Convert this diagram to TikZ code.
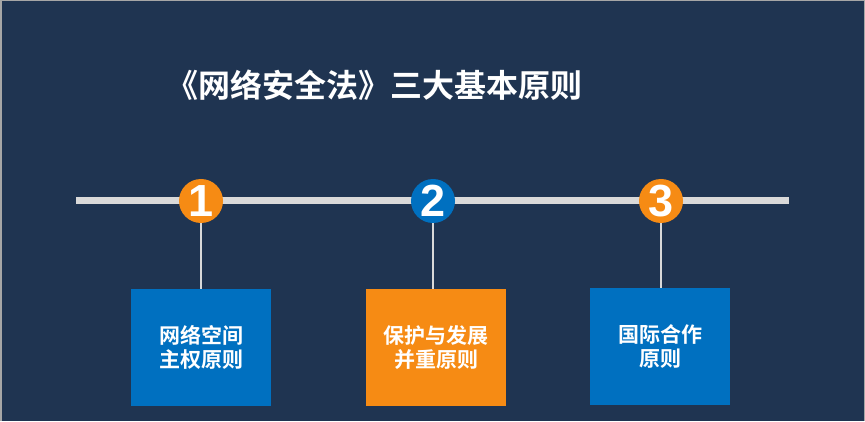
\documentclass[tikz,border=0pt]{standalone}
\usepackage{fontspec}
\newfontfamily\cjk{Noto Sans CJK SC}[BoldFont={Noto Sans CJK SC Bold}]
\newfontfamily\numfont{Liberation Sans}
\definecolor{bgc}{HTML}{1F3451}
\definecolor{bluec}{HTML}{0070C0}
\definecolor{orangec}{HTML}{F68B14}
\definecolor{linec}{HTML}{D9D9D9}
\definecolor{framec}{HTML}{A6A6A6}
\tikzset{
  numcirc/.style={circle, minimum size=44pt, inner sep=0pt, text=white, font=\numfont\bfseries\fontsize{45}{45}\selectfont},
  boxnode/.style={minimum width=140pt, minimum height=117pt, inner sep=0pt, text=white, align=center, font=\cjk\bfseries\fontsize{21}{24}\selectfont},
  stem/.style={draw=linec, line width=1.6pt}
}
\begin{document}
\begin{tikzpicture}[x=1pt,y=-1pt]
\fill[bgc] (0,0) rectangle (865,421);
\draw[framec, line width=1.5pt] (0.75,421) -- (0.75,0.75) -- (864.25,0.75) -- (864.25,421);
\useasboundingbox (0,0) rectangle (865,421);
\node[text=white, font=\cjk\bfseries\fontsize{32}{36}\selectfont] (title) at (374,85) {《网络安全法》三大基本原则};
\coordinate (lineL) at (76,201);
\coordinate (lineR) at (789,201);
\draw[linec, line width=7pt] (lineL) -- (lineR);
\node[boxnode, fill=bluec] (b1) at (201,347.5) {网络空间\\主权原则};
\node[boxnode, fill=orangec] (b2) at (436,347.5) {保护与发展\\并重原则};
\node[boxnode, fill=bluec] (b3) at (660,346.5) {国际合作\\原则};
\node[numcirc, fill=orangec] (c1) at (201,201) {1};
\node[numcirc, fill=bluec] (c2) at (433,201) {2};
\node[numcirc, fill=orangec] (c3) at (661,201) {3};
\draw[stem] (c1.south) -- (c1.south |- b1.north);
\draw[stem] (c2.south) -- (c2.south |- b2.north);
\draw[stem] (c3.south) -- (c3.south |- b3.north);
\end{tikzpicture}
\end{document}
